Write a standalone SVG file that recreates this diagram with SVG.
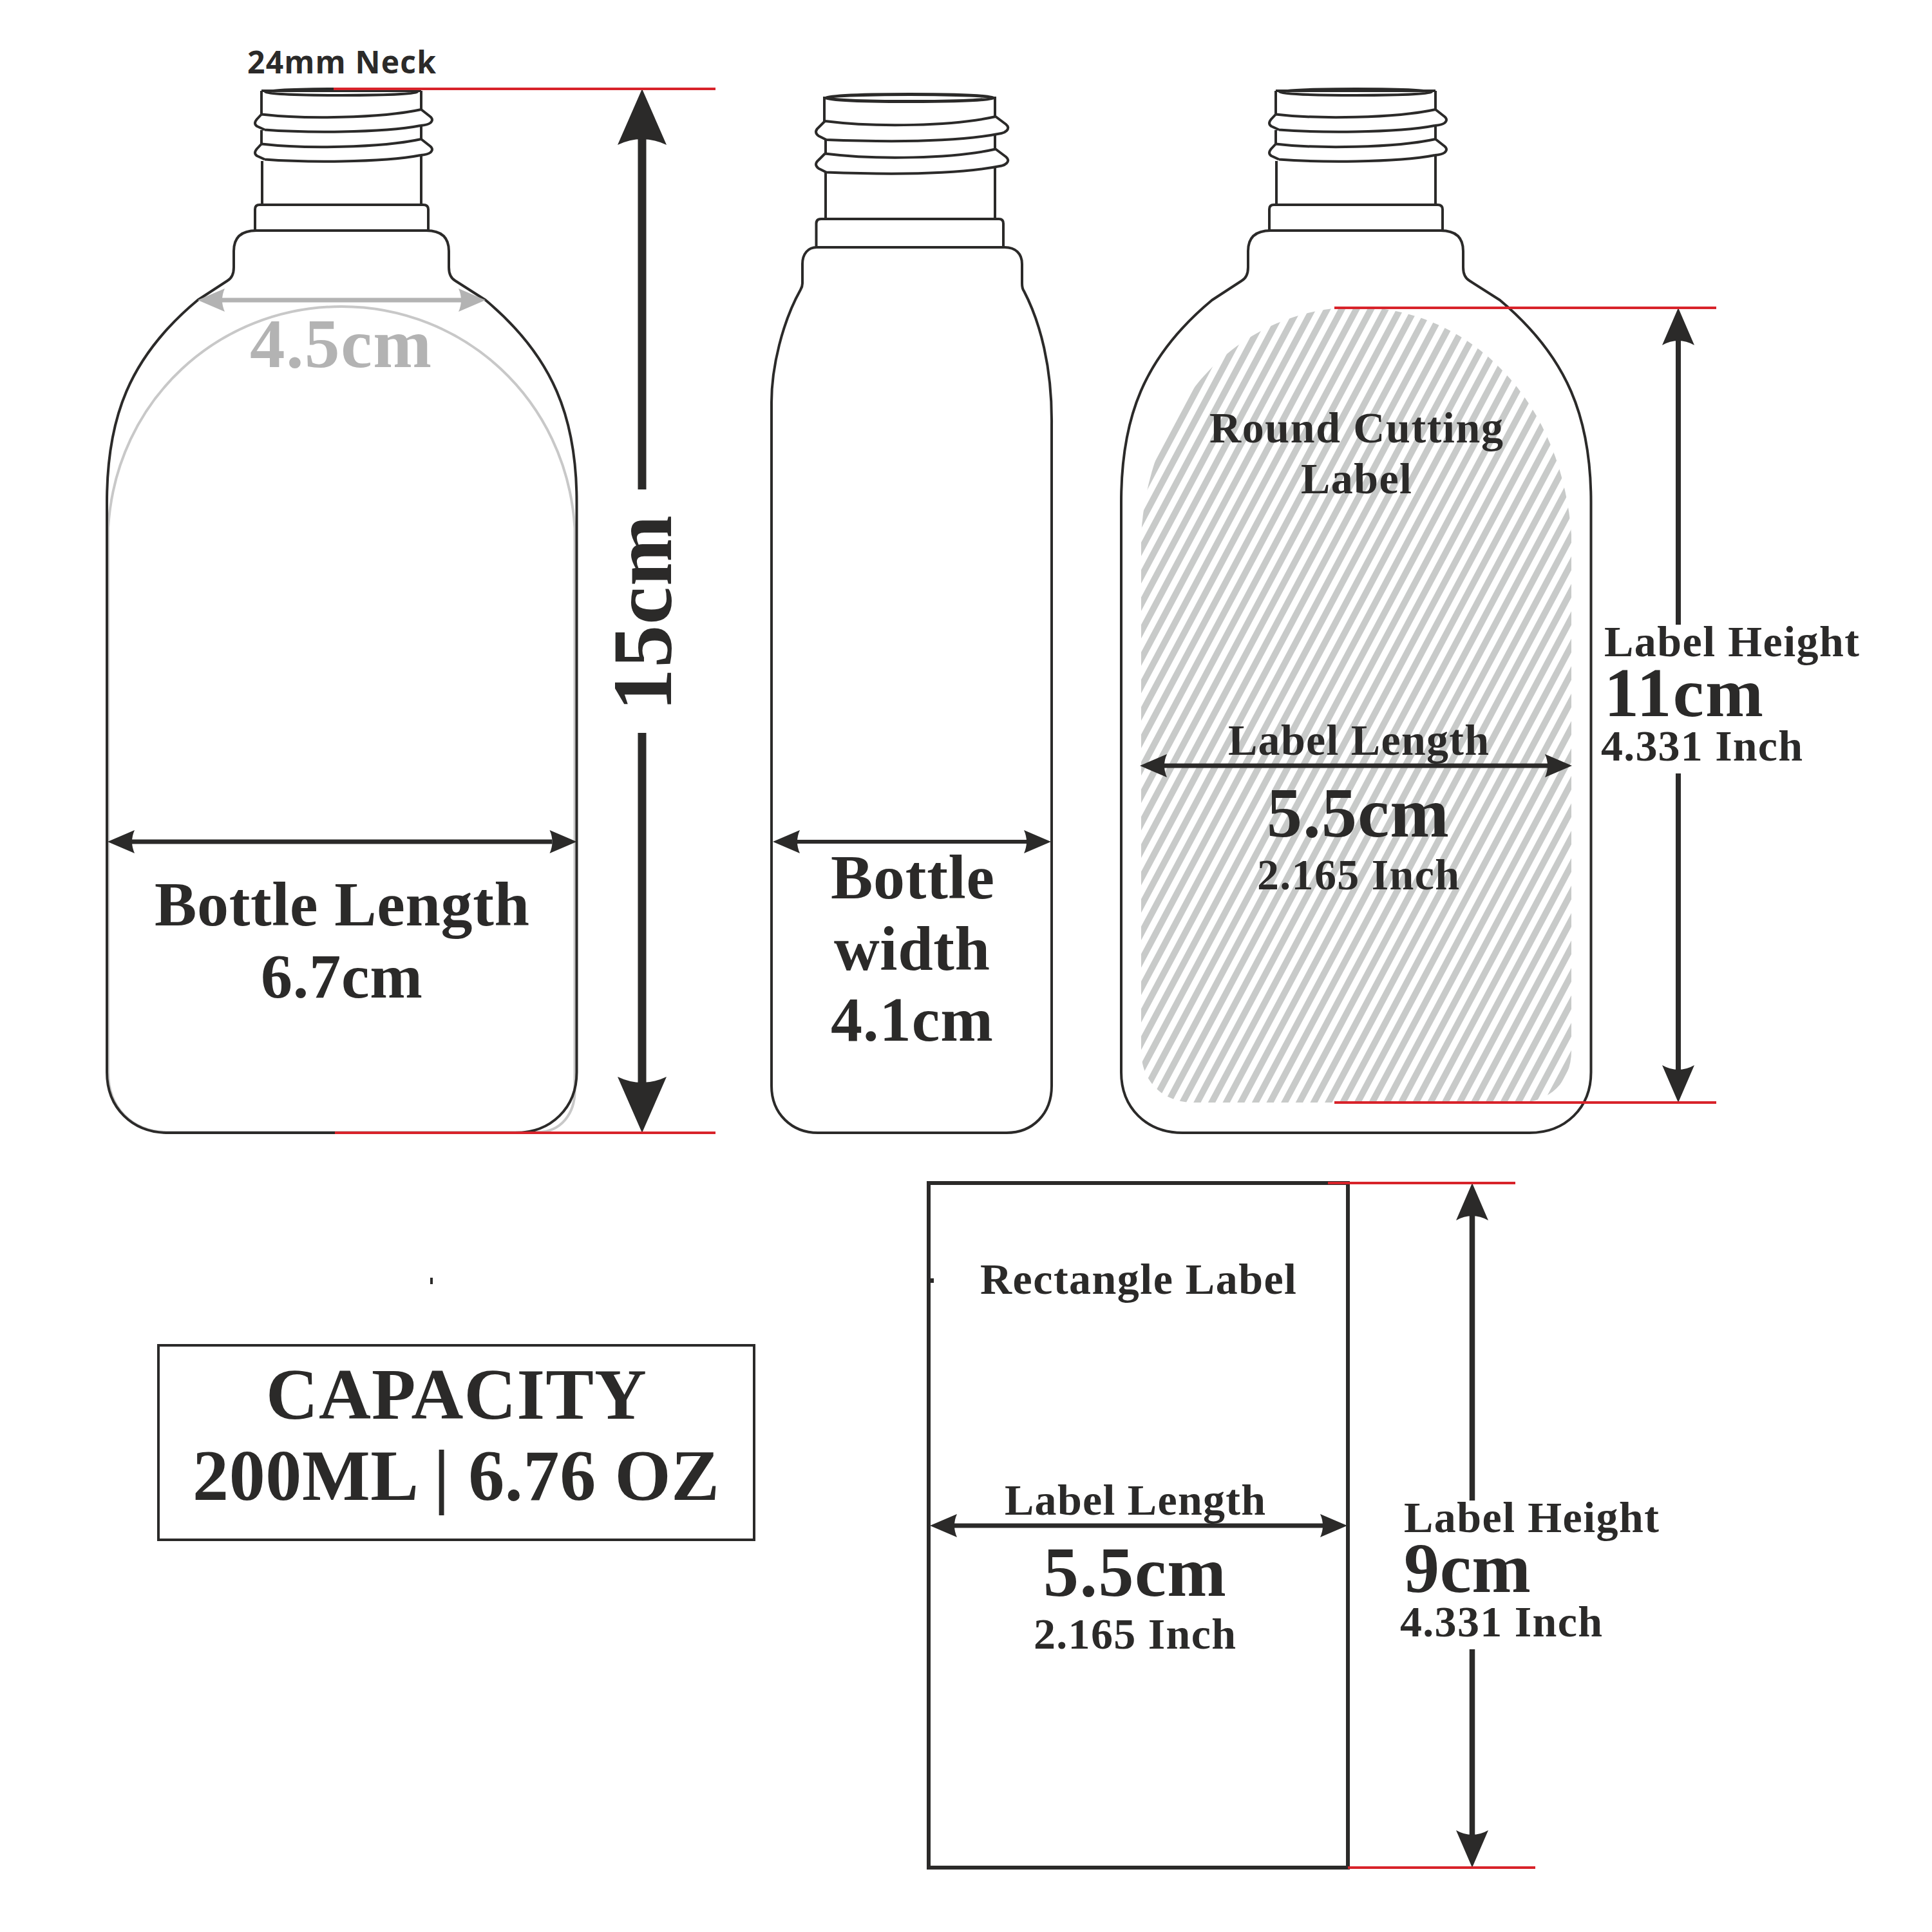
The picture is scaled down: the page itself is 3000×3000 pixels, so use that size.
<svg xmlns="http://www.w3.org/2000/svg" xmlns:xlink="http://www.w3.org/1999/xlink" width="3000" height="3000" viewBox="0 0 3000 3000">
<style>
.o{fill:none;stroke:#2b2a29;stroke-width:4;stroke-linejoin:round}
.t{font-family:"Liberation Serif","Times New Roman",serif;font-weight:700;fill:#2b2a29}
.r{stroke:#d8232a;stroke-width:4;fill:none}
.d{stroke:#2b2a29;fill:none}
</style>
<defs>
<marker id="mDim" markerUnits="userSpaceOnUse" orient="auto-start-reverse" markerWidth="1" markerHeight="1" refX="0" refY="0" overflow="visible"><path d="M38 0L-4 -18Q4 0 -4 18Z" fill="#2b2a29"/></marker>
<marker id="mGrey" markerUnits="userSpaceOnUse" orient="auto-start-reverse" markerWidth="1" markerHeight="1" refX="0" refY="0" overflow="visible"><path d="M38 0L-4 -18Q4 0 -4 18Z" fill="#b3b3b3"/></marker>
<marker id="mMid" markerUnits="userSpaceOnUse" orient="auto-start-reverse" markerWidth="1" markerHeight="1" refX="0" refY="0" overflow="visible"><path d="M48 0L-10 -25Q4 0 -10 25Z" fill="#2b2a29"/></marker>
<marker id="mBig" markerUnits="userSpaceOnUse" orient="auto-start-reverse" markerWidth="1" markerHeight="1" refX="0" refY="0" overflow="visible"><path d="M75 0L-12 -38Q6 0 -12 38Z" fill="#2b2a29"/></marker>
<pattern id="hatch" patternUnits="userSpaceOnUse" width="20" height="20" patternTransform="rotate(28)"><rect width="10" height="20" fill="#c8cac9"/></pattern>
<g id="bottleA" class="o">
<path d="M398 358C375 358 363 368 363 390V415C363 426 360 432 353 436L307 466C200 555 166 650 166 780V1665C166 1720 205 1759 261 1759H800C856 1759 895.500 1720 895.500 1665V780C895.500 650 860 555 754 466L707 436C700 432 697 426 697 415V390C697 368 685 358 662 358Z"/>
<path d="M396 358V325Q396 318 403 318H657Q665 318 665 325V358"/>
<ellipse cx="530" cy="143" rx="118" ry="5"/>
<path d="M406 141H654M406 141V177.500M406 202V223.500M407 250V318M654 141V170M654 195V216M654 241V318"/>
<g id="threadA"><path d="M406 177.500C470 185 590 184 654 170M411 201.500C470 206 590 207 653 195M406 177.500L399 185Q393 192 399 196L411 201.500M654 170L668 181Q674 186 668 191Q664 194 653 195"/></g>
<use xlink:href="#threadA" href="#threadA" y="46"/>
</g>
<g id="threadB"><path d="M1281 188C1360 198 1480 196 1546 181M1283 217C1360 220 1480 222 1555 207M1281 188L1271 198Q1263 205 1271 211L1283 217M1546 181L1562 193Q1568 198 1563 203Q1560 206 1555 207"/></g>
</defs>
<rect width="3000" height="3000" fill="#fff"/>

<g id="bottle-front">
<path d="M168 820C180 620 340 476 530 476C720 476 880 620 892.500 820V1690C894 1730 870 1758 835 1758H261C205 1758 168 1720 168 1665Z" fill="none" stroke="#c8c8c8" stroke-width="4"/>
<use xlink:href="#bottleA" href="#bottleA"/>
<text x="384" y="114" style="font-family:'Open Sans',Lato,sans-serif;font-weight:700;fill:#2b2a29" font-size="48" textLength="293">24mm Neck</text>
<text x="388" y="570" font-size="109" textLength="282" style="font-family:'Liberation Serif',serif;font-weight:700;fill:#b3b3b3">4.5cm</text>
<text class="t" x="240" y="1437" font-size="98" textLength="582">Bottle Length</text>
<text class="t" x="405" y="1549" font-size="98" textLength="251">6.7cm</text>
</g>

<g id="bottle-side">
<g class="o">
<path d="M1268 384C1255 384 1246 394 1246 410V440Q1246 445 1243 450C1215 500 1198 570 1198 625V1686C1198 1730 1230 1759 1270 1759H1563C1603 1759 1633 1730 1633 1686V660C1634 570 1615 500 1590 452Q1587 448 1587 440V410C1587 394 1577 384 1560 384Z"/>
<path d="M1267.500 384V347Q1267.500 340 1275 340H1551Q1558 340 1558 347V384"/>
<ellipse cx="1412.500" cy="152" rx="131" ry="5.500" stroke-width="5"/>
<path d="M1280 150V188M1282 217V238M1282 267V340M1545 150V181M1545 207V232M1545 258V340"/>
<use xlink:href="#threadB" href="#threadB"/>
<use xlink:href="#threadB" href="#threadB" y="50.500"/>
</g>
<text class="t" x="1290" y="1395" font-size="98" textLength="254">Bottle</text>
<text class="t" x="1295" y="1506" font-size="98" textLength="242">width</text>
<text class="t" x="1290" y="1616" font-size="98" textLength="252">4.1cm</text>
</g>

<g id="bottle-round-label">
<path d="M1772 830C1785 620 1930 477 2106 477C2280 477 2425 620 2440 830V1632C2440 1680 2405 1712 2360 1712H1852C1807 1712 1772 1680 1772 1632Z" fill="url(#hatch)"/>
<use xlink:href="#bottleA" href="#bottleA" x="1575"/>
<text class="t" x="1878" y="687" font-size="68" textLength="456">Round Cutting</text>
<text class="t" x="2020" y="766" font-size="68" textLength="172">Label</text>
<text class="t" x="1907" y="1172" font-size="68" textLength="405">Label Length</text>
<text class="t" x="1967" y="1299" font-size="110" textLength="283">5.5cm</text>
<text class="t" x="1952" y="1381" font-size="68" textLength="314">2.165 Inch</text>
<text class="t" x="2491" y="1019" font-size="68" textLength="396">Label Height</text>
<text class="t" x="2491" y="1112" font-size="108" textLength="247">11cm</text>
<text class="t" x="2486" y="1181" font-size="68" textLength="313">4.331 Inch</text>
</g>

<g id="rectangle-label">
<rect x="1442" y="1837" width="651" height="1063" fill="none" stroke="#2b2a29" stroke-width="6"/>
<rect x="1445" y="1985" width="5" height="7" fill="#2b2a29"/>
<text class="t" x="1522" y="2009" font-size="68" textLength="491">Rectangle Label</text>
<text class="t" x="1560" y="2352" font-size="68" textLength="405">Label Length</text>
<text class="t" x="1620" y="2478" font-size="110" textLength="284">5.5cm</text>
<text class="t" x="1605" y="2560" font-size="68" textLength="314">2.165 Inch</text>
<text class="t" x="2180" y="2379" font-size="68" textLength="396">Label Height</text>
<text class="t" x="2180" y="2472" font-size="110" textLength="197">9cm</text>
<text class="t" x="2174" y="2541" font-size="68" textLength="314">4.331 Inch</text>
</g>

<g id="capacity">
<rect x="246" y="2089" width="925" height="302" fill="none" stroke="#2b2a29" stroke-width="4"/>
<text class="t" x="413" y="2203" font-size="112" textLength="591">CAPACITY</text>
<text class="t" x="299" y="2329" font-size="112" textLength="818">200ML | 6.76 OZ</text>
</g>
<rect id="speck" x="668" y="1984" width="4" height="10" fill="#2b2a29"/>

<g id="connectors">
<path class="d" stroke-width="7" d="M205 1307H857.500" marker-start="url(#mDim)" marker-end="url(#mDim)"/>
<path class="d" stroke-width="6" d="M1238 1307H1594" marker-start="url(#mDim)" marker-end="url(#mDim)"/>
<path class="d" stroke-width="7" d="M1808 1189H2403" marker-start="url(#mDim)" marker-end="url(#mDim)"/>
<path class="d" stroke-width="7" d="M1482 2369H2054" marker-start="url(#mDim)" marker-end="url(#mDim)"/>
<path fill="none" stroke="#b3b3b3" stroke-width="7" d="M345 466H716" marker-start="url(#mGrey)" marker-end="url(#mGrey)"/>
<path class="d" stroke-width="13" d="M997 760V213" marker-end="url(#mBig)"/>
<path class="d" stroke-width="13" d="M997 1138V1684" marker-end="url(#mBig)"/>
<path class="d" stroke-width="8" d="M2606 970V526" marker-end="url(#mMid)"/>
<path class="d" stroke-width="8" d="M2606 1201V1664" marker-end="url(#mMid)"/>
<path class="d" stroke-width="8.500" d="M2286 2330V1885" marker-end="url(#mMid)"/>
<path class="d" stroke-width="8.500" d="M2286 2561V2852" marker-end="url(#mMid)"/>
<path class="r" d="M518 138H1111M520 1759H1111M2072 478H2665M2072 1712H2665M2062 1837H2353M2093 2900H2384"/>
</g>
<text class="t" transform="translate(1042 1104) rotate(-90)" font-size="132" textLength="304">15cm</text>
</svg>
